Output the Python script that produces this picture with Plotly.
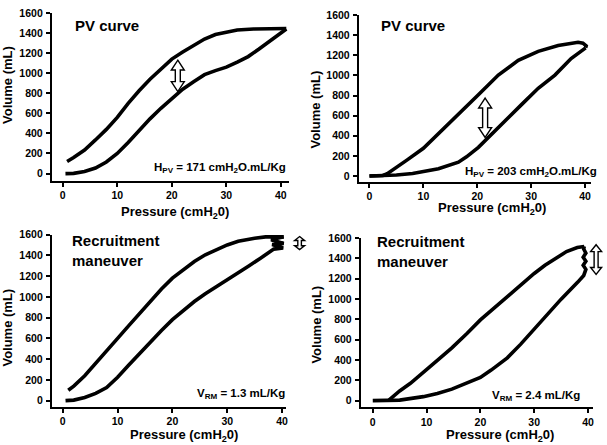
import plotly.graph_objects as go

W, H = 607, 445

# ---------------- data ----------------
x_ticks = [0, 10, 20, 30, 40]
y_ticks = [0, 200, 400, 600, 800, 1000, 1200, 1400, 1600]

# Panel 1: PV curve (left)
p1_infl_x = [0.5, 2, 4, 6, 8, 10, 12, 14, 16, 18, 20, 22, 24, 26, 28, 30, 32, 34, 36, 38, 40, 41]
p1_infl_y = [0, 2, 20, 55, 115, 200, 310, 430, 545, 650, 750, 840, 915, 985, 1025, 1060, 1110, 1165, 1240, 1320, 1405, 1440]
p1_defl_x = [41, 38, 35, 32, 30, 28, 26, 24, 22, 20, 18, 16, 14, 12, 10, 8, 6, 4, 2, 0.8]
p1_defl_y = [1445, 1445, 1440, 1430, 1412, 1385, 1340, 1280, 1210, 1140, 1045, 940, 825, 700, 560, 440, 335, 235, 160, 120]

# Panel 2: PV curve (right)
p2_infl_x = [0, 2.5, 5, 8, 10, 12.8, 16.5, 18, 20.2, 22, 25, 28.2, 31.3, 34.4, 37.4, 39, 40.1]
p2_infl_y = [0, 2, 10, 25, 42, 72, 137, 190, 285, 383, 546, 710, 873, 1004, 1168, 1235, 1275]
p2_defl_x = [40.1, 40.2, 39.6, 38.7, 35, 31.3, 27.6, 23.9, 20.2, 16.5, 12.8, 10, 7, 5, 3.3, 2.5, 0]
p2_defl_y = [1275, 1295, 1322, 1330, 1298, 1240, 1151, 1004, 808, 611, 415, 275, 160, 88, 23, 5, 0]

# Panel 3: Recruitment maneuver (left)
p3_infl_x = [0.5, 2, 4, 6, 8, 10, 12, 14, 16, 18, 20, 22, 24, 26, 28, 30, 32, 34, 36, 38, 38.5,
             40.2, 38.2, 40.3, 38.0, 40.3]
p3_infl_y = [0, 5, 30, 70, 125, 225, 340, 455, 565, 675, 780, 870, 955, 1030, 1095, 1160, 1225, 1300, 1370, 1440, 1460,
             1470, 1505, 1515, 1550, 1578]
p3_defl_x = [40.3, 37, 35, 32, 30, 28, 26, 24, 22, 20, 18, 16, 14, 12, 10, 8, 6, 4, 2, 1]
p3_defl_y = [1578, 1578, 1565, 1535, 1500, 1455, 1405, 1340, 1265, 1180, 1075, 960, 840, 720, 600, 480, 360, 240, 140, 100]

# Panel 4: Recruitment maneuver (right)
p4_infl_x = [0, 3, 5, 9.4, 12, 14.7, 17, 20, 22, 25, 27.5, 30, 32.5, 35, 38.1, 39.2,
             39.6, 39.1, 39.6, 39.1, 39.6, 39.2, 39.3]
p4_infl_y = [0, 0, 5, 39, 70, 113, 160, 227, 300, 420, 555, 705, 850, 997, 1165, 1230,
             1290, 1330, 1370, 1410, 1450, 1490, 1515]
p4_defl_x = [39.3, 38, 36, 33.8, 32, 30, 27.5, 25, 22.5, 20, 17.5, 14.7, 12, 9.4, 7, 5, 4, 3]
p4_defl_y = [1515, 1505, 1465, 1392, 1330, 1250, 1135, 1020, 905, 793, 660, 518, 395, 275, 170, 95, 55, 5]

# text
panel_titles = ["PV curve", "PV curve", "Recruitment<br>maneuver", "Recruitment<br>maneuver"]
panel_notes = ["H<sub>PV</sub> = 171 cmH<sub>2</sub>O.mL/Kg",
               "H<sub>PV</sub> = 203 cmH<sub>2</sub>O.mL/Kg",
               "V<sub>RM</sub> = 1.3 mL/Kg",
               "V<sub>RM</sub> = 2.4 mL/Kg"]
x_title = "Pressure (cmH<sub>2</sub>0)"
y_title = "Volume (mL)"

# arrow positions (data units): x, low volume, high volume
arrows = [(21.1, 817, 1129), (21.45, 383, 775), (43.2, 1455, 1581), (41.5, 1241, 1532)]

# ---------------- layout geometry (pixels) ----------------
panels = [
    dict(xd=(52, 290), yd=(7, 177), xr=(-2, 41.5), yr=(-70, 1600)),
    dict(xd=(360, 593), yd=(9.3, 178), xr=(-1.98, 41.1), yr=(-56, 1600)),
    dict(xd=(52, 287), yd=(231.7, 406), xr=(-2, 40.73), yr=(-57, 1600)),
    dict(xd=(362, 595), yd=(235, 406.7), xr=(-2.22, 40.93), yr=(-65, 1600)),
]
arrow_dims = [(6.5, 2.5, 10), (6.5, 2.5, 10), (5, 1.8, 4), (5.5, 2, 7)]
title_pos = [(73, 20), (380, 20), (70, 248), (376, 249)]
note_pos = [(289, 164), (601, 168), (288, 393), (584, 395)]
xtitle_pos = [(176, 209), (494, 205), (185, 435), (502, 435)]
ytitle_pos = [(8, 80), (317, 105), (8, 326), (318, 323)]

FONT = "Arial, Liberation Sans, sans-serif"

fig = go.Figure()
series = [(p1_infl_x, p1_infl_y, p1_defl_x, p1_defl_y),
          (p2_infl_x, p2_infl_y, p2_defl_x, p2_defl_y),
          (p3_infl_x, p3_infl_y, p3_defl_x, p3_defl_y),
          (p4_infl_x, p4_infl_y, p4_defl_x, p4_defl_y)]

def px2paper(px, py):
    return px / W, 1 - py / H

annotations = []
shapes = []
for i, (p, s) in enumerate(zip(panels, series)):
    n = "" if i == 0 else str(i + 1)
    xa, ya = "x" + n, "y" + n
    for xs, ys in [(s[0], s[1]), (s[2], s[3])]:
        fig.add_trace(go.Scatter(x=xs, y=ys, mode="lines", xaxis=xa, yaxis=ya,
                                 line=dict(color="black", width=3.6, shape="linear"),
                                 showlegend=False, hoverinfo="skip"))
    x0, x1 = p["xd"]; y0, y1 = p["yd"]
    axis_common = dict(showline=True, linecolor="black", linewidth=2, ticks="outside",
                       ticklen=4, tickwidth=1.5, tickcolor="black", showgrid=False,
                       zeroline=False, tickfont=dict(family=FONT, size=10.5, color="black", weight="bold"),
                       fixedrange=True)
    fig.layout["xaxis" + n] = dict(domain=[x0 / W, x1 / W], range=list(p["xr"]), anchor=ya,
                                   tickvals=x_ticks, **axis_common)
    fig.layout["yaxis" + n] = dict(domain=[1 - y1 / H, 1 - y0 / H], range=list(p["yr"]), anchor=xa,
                                   tickvals=y_ticks, ticklabelstandoff=1, **axis_common)

    def d2p(x, v, p=p):
        px = p["xd"][0] + (x - p["xr"][0]) / (p["xr"][1] - p["xr"][0]) * (p["xd"][1] - p["xd"][0])
        py = p["yd"][1] - (v - p["yr"][0]) / (p["yr"][1] - p["yr"][0]) * (p["yd"][1] - p["yd"][0])
        return px, py

    # hollow double arrow
    ax, vlo, vhi = arrows[i]
    hw, sw, hh = arrow_dims[i]
    cx, yb = d2p(ax, vlo)
    _, yt = d2p(ax, vhi)
    pts = [(cx, yt), (cx + hw, yt + hh), (cx + sw, yt + hh), (cx + sw, yb - hh), (cx + hw, yb - hh),
           (cx, yb), (cx - hw, yb - hh), (cx - sw, yb - hh), (cx - sw, yt + hh), (cx - hw, yt + hh)]
    path = "M " + " L ".join("%.5f,%.5f" % px2paper(a, b) for a, b in pts) + " Z"
    shapes.append(dict(type="path", xref="paper", yref="paper", path=path,
                       fillcolor="white", line=dict(color="black", width=1.4), layer="above"))

    tx, ty = px2paper(*title_pos[i])
    annotations.append(dict(text=panel_titles[i], x=tx, y=ty, xref="paper", yref="paper",
                            xanchor="left", yanchor="middle", align="left", showarrow=False,
                            font=dict(family=FONT, size=15, color="black", weight="bold")))
    nx, ny = px2paper(*note_pos[i])
    annotations.append(dict(text=panel_notes[i], x=nx, y=ny, xref="paper", yref="paper",
                            xanchor="right", yanchor="middle", showarrow=False,
                            font=dict(family=FONT, size=11.5, color="black", weight="bold")))
    gx, gy = px2paper(*xtitle_pos[i])
    annotations.append(dict(text=x_title, x=gx, y=gy, xref="paper", yref="paper",
                            xanchor="center", yanchor="middle", showarrow=False,
                            font=dict(family=FONT, size=13, color="black", weight="bold")))
    hx, hy = px2paper(*ytitle_pos[i])
    annotations.append(dict(text=y_title, x=hx, y=hy, xref="paper", yref="paper",
                            xanchor="center", yanchor="middle", textangle=-90, showarrow=False,
                            font=dict(family=FONT, size=13, color="black", weight="bold")))

fig.update_layout(width=W, height=H, margin=dict(l=0, r=0, t=0, b=0),
                  paper_bgcolor="white", plot_bgcolor="white",
                  annotations=annotations, shapes=shapes, showlegend=False)

fig.write_html("out.html", config={"displayModeBar": False},
               post_script="document.body.style.margin='0';document.body.style.overflow='hidden';")
